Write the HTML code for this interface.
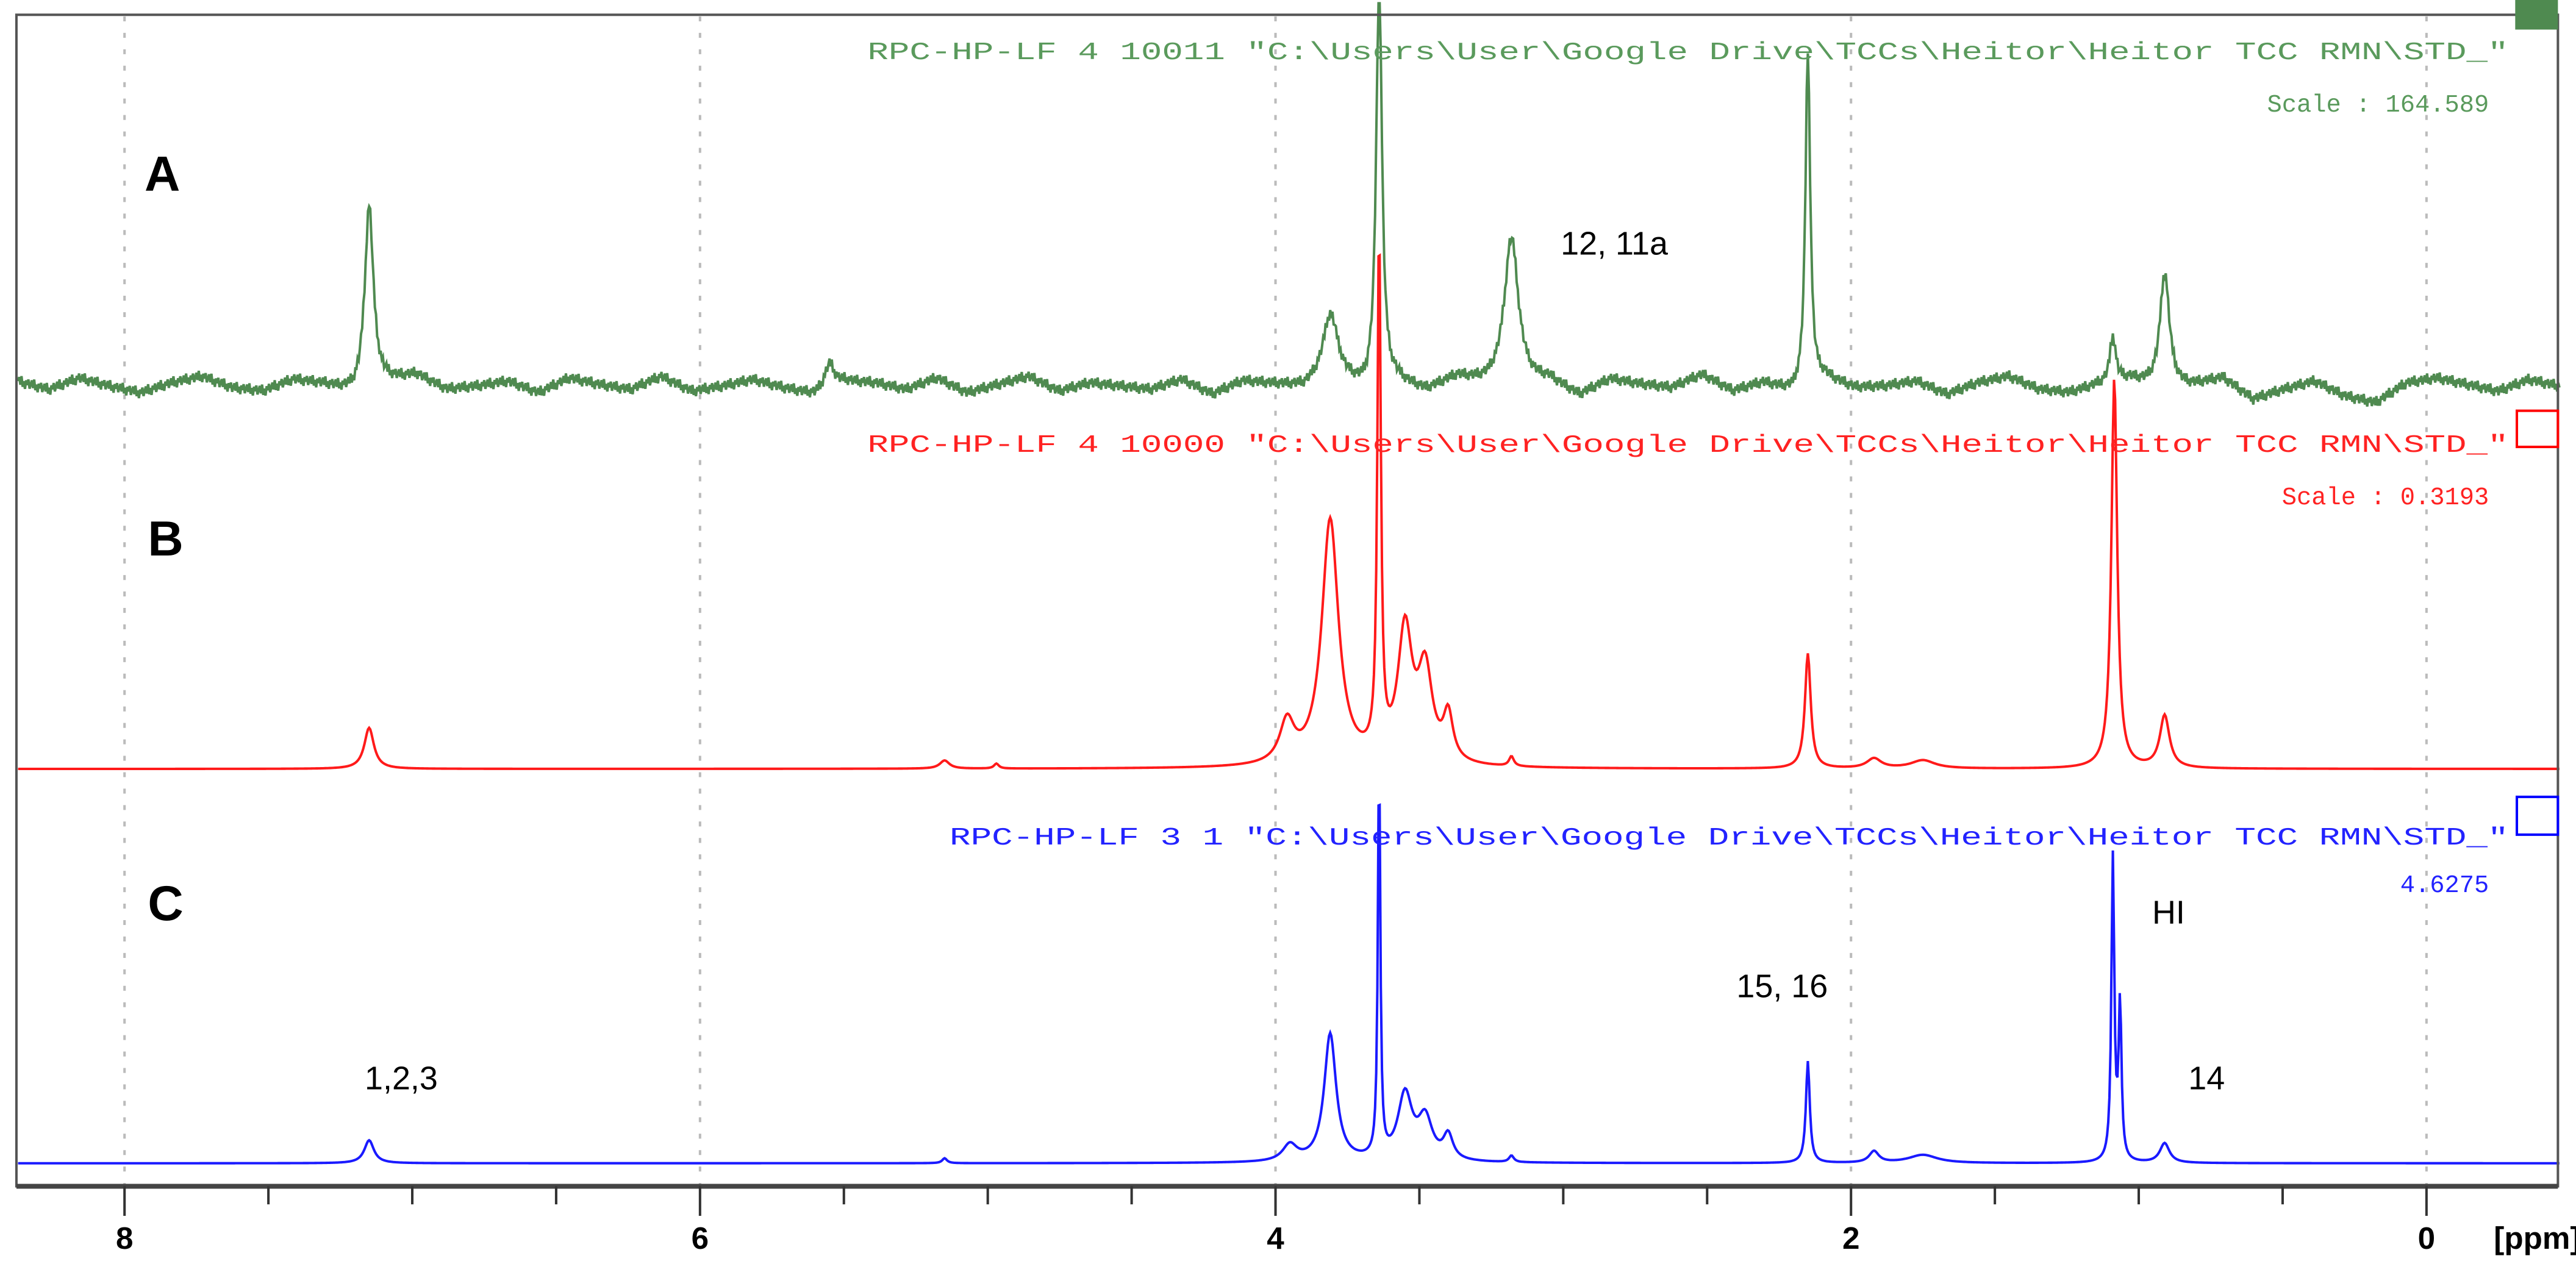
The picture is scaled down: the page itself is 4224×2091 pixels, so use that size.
<!DOCTYPE html>
<html><head><meta charset="utf-8"><style>
html,body{margin:0;padding:0;background:#fff;}
svg{display:block;}
.hdr{font-family:"Liberation Mono",monospace;font-size:15px;}
.lbl{font-family:"Liberation Sans",sans-serif;font-size:20px;fill:#000;}
.big{font-family:"Liberation Sans",sans-serif;font-size:30px;font-weight:bold;fill:#000;}
.tick{font-family:"Liberation Sans",sans-serif;font-size:19px;font-weight:bold;fill:#000;}
</style></head><body>
<svg id="chart" width="4224" height="2091" viewBox="0 0 1568 776" preserveAspectRatio="none" xmlns="http://www.w3.org/2000/svg">
<rect x="0" y="0" width="1568" height="776" fill="#fff"/>
<g id="grid"></g>
<g id="spectra"></g>
<rect x="10" y="9" width="1547" height="713" fill="none" stroke="#555" stroke-width="1.5"/>
<line x1="10" y1="722" x2="1557" y2="722" stroke="#444" stroke-width="3"/>
<g id="axis"></g>
<text class="tick" x="1518" y="760">[ppm]</text>

<rect x="1531" y="0" width="26" height="18" fill="#4f8a50"/>
<rect x="1532" y="250" width="25" height="22" fill="none" stroke="#f00" stroke-width="1.5"/>
<rect x="1532" y="485" width="25" height="23" fill="none" stroke="#00f" stroke-width="1.5"/>

<text class="hdr" x="528" y="36" fill="#5a9a5c" textLength="999" lengthAdjust="spacingAndGlyphs">RPC-HP-LF  4  10011  "C:\Users\User\Google Drive\TCCs\Heitor\Heitor TCC RMN\STD_"</text>
<text class="hdr" x="1515" y="68" fill="#5a9a5c" text-anchor="end">Scale : 164.589</text>
<text class="hdr" x="528" y="275" fill="#f22" textLength="999" lengthAdjust="spacingAndGlyphs">RPC-HP-LF  4  10000  "C:\Users\User\Google Drive\TCCs\Heitor\Heitor TCC RMN\STD_"</text>
<text class="hdr" x="1515" y="307" fill="#f22" text-anchor="end">Scale : 0.3193</text>
<text class="hdr" x="578" y="514" fill="#22f" textLength="949" lengthAdjust="spacingAndGlyphs">RPC-HP-LF  3  1  "C:\Users\User\Google Drive\TCCs\Heitor\Heitor TCC RMN\STD_"</text>
<text class="hdr" x="1515" y="543" fill="#22f" text-anchor="end">4.6275</text>

<text class="big" x="88" y="116">A</text>
<text class="big" x="90" y="338">B</text>
<text class="big" x="90" y="560">C</text>
<text class="lbl" x="950" y="155">12, 11a</text>
<text class="lbl" x="222" y="663">1,2,3</text>
<text class="lbl" x="1057" y="607">15, 16</text>
<text class="lbl" x="1310" y="562">HI</text>
<text class="lbl" x="1332" y="663">14</text>
</svg>
<script>
const majorTicks=[8,6,4,2,0];
const minorTicks=[7.5,7,6.5,5.5,5,4.5,3.5,3,2.5,1.5,1,0.5];
// peaks: ppm positions, heights (display px above baseline), half-widths (ppm)
const peaksA_pos=[7.15,5.55,3.81,3.64,3.18,2.15,1.09,0.91];
const peaksA_h=[112,15,38,250,92,205,28,72];
const peaksA_w=[0.018,0.02,0.03,0.012,0.03,0.01,0.012,0.02];
const noiseA=[3,-2,5,0,-4,2,6,-1,-3,4,1,-5,2,7,-2,0,3,-4,5,1,-2,6,-3,0,4,-1,-5,3,2,-2,5,-4,1,6,-3,2,0,-2,4,-5,3,1,-1,6,-4,2,-3,5,0,-2,3,-6,4,1,-1,7,-3,2,-4,5,-1,0,3,-5,2,6,-2,-4,1,4,-3,0,5,-8,-2,3,-6,-10,2,5,1,-3,4,0];
const peaksB_pos=[7.15,5.15,4.97,3.96,3.81,3.64,3.55,3.48,3.40,3.18,2.15,1.92,1.75,1.085,0.91];
const peaksB_h=[25,5,3,25,150,320,80,55,28,6,70,6,5,238,32];
const peaksB_w=[0.02,0.02,0.01,0.03,0.035,0.007,0.03,0.03,0.02,0.01,0.012,0.03,0.05,0.012,0.02];
const peaksC_pos=[7.15,5.15,3.95,3.81,3.64,3.55,3.48,3.4,3.18,2.15,1.92,1.75,1.09,1.065,0.91];
const peaksC_h=[14,3,10,78,245,40,25,15,4,62,7,5,185,95,12];
const peaksC_w=[0.02,0.01,0.03,0.025,0.005,0.03,0.03,0.02,0.01,0.008,0.02,0.06,0.006,0.006,0.02];
const baseA=235, baseB=468, baseC=708;

const X=p=>1477-175.15*p;
const NS="http://www.w3.org/2000/svg";
const grid=document.getElementById('grid'), axis=document.getElementById('axis'), sp=document.getElementById('spectra');
majorTicks.forEach(t=>{
  const x=X(t);
  const g=document.createElementNS(NS,'line');
  
  
  g.setAttribute('x1',x);g.setAttribute('x2',x);g.setAttribute('y1',10);g.setAttribute('y2',722);
  g.setAttribute('stroke','#bbb');g.setAttribute('stroke-width','1.5');g.setAttribute('stroke-dasharray','3,7');
  grid.appendChild(g);
  const l=document.createElementNS(NS,'line');
  
  
  l.setAttribute('x1',x);l.setAttribute('x2',x);l.setAttribute('y1',722);l.setAttribute('y2',740);
  l.setAttribute('stroke','#333');l.setAttribute('stroke-width','1.5');
  axis.appendChild(l);
  const tx=document.createElementNS(NS,'text');
  
  
  tx.setAttribute('class','tick');tx.setAttribute('x',x);tx.setAttribute('y',760);tx.setAttribute('text-anchor','middle');
  tx.textContent=t;axis.appendChild(tx);
});
minorTicks.forEach(t=>{
  const x=X(t);
  const l=document.createElementNS(NS,'line');
  
  
  l.setAttribute('x1',x);l.setAttribute('x2',x);l.setAttribute('y1',722);l.setAttribute('y2',733);
  l.setAttribute('stroke','#333');l.setAttribute('stroke-width','1.5');
  axis.appendChild(l);
});
function trace(pos,h,w,base,color,name,noise){
  let d='';
  const p0=8.37,p1=-0.46,step=0.004;
  const n=Math.round((p0-p1)/step);
  for(let i=0;i<=n;i++){
    const p=p0-i*step;
    let y=0;
    for(let k=0;k<pos.length;k++){const u=(p-pos[k])/w[k];y+=h[k]/(1+u*u);}
    if(noise){const f=(i/n)*(noise.length-1);const a=Math.floor(f);const b=Math.min(a+1,noise.length-1);y+=noise[a]+(noise[b]-noise[a])*(f-a);
      y+=[0,3,-2,4,-3,1,-4,2,-1,3,-3][i%11]*0.9;}
    const yy=Math.max(2,base-y);
    d+=(i?'L':'M')+X(p).toFixed(2)+' '+yy.toFixed(2);
  }
  const path=document.createElementNS(NS,'path');
  
  
  path.setAttribute('d',d);path.setAttribute('fill','none');path.setAttribute('stroke',color);path.setAttribute('stroke-width','1.5');
  sp.appendChild(path);
}
trace(peaksA_pos,peaksA_h,peaksA_w,baseA,'#4f8a50','spectrum-a',noiseA);
trace(peaksB_pos,peaksB_h,peaksB_w,baseB,'#ff1a1a','spectrum-b',null);
trace(peaksC_pos,peaksC_h,peaksC_w,baseC,'#1a1aff','spectrum-c',null);
</script>
</body></html>
